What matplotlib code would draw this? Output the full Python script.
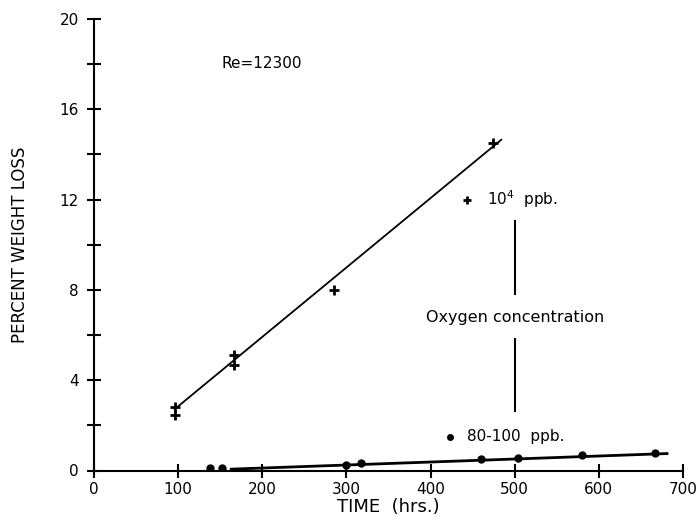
import matplotlib
matplotlib.use("Agg")
import matplotlib.pyplot as plt
import numpy as np

# Data: 10^4 ppb oxygen
high_t = [96.5, 96.5, 166.5, 166.5, 285, 474]
high_w = [2.81, 2.48, 5.11, 4.67, 8.0, 14.5]
high_fit_t = [96, 484]
high_fit_w = [2.72, 14.65]

# Data: 80-100 ppb oxygen
low_t = [138, 152, 300, 317, 460, 504, 580, 667]
low_w = [0.10, 0.12, 0.26, 0.33, 0.49, 0.55, 0.67, 0.77]
low_fit_t = [163, 681]
low_fit_w = [0.06, 0.75]

x_ticks = [0, 100, 200, 300, 400, 500, 600, 700]
y_major = [0, 4, 8, 12, 16, 20]
y_minor = [2, 6, 10, 14, 18]

plt.rcParams['font.family'] = ['DejaVu Sans']
fig = plt.figure(figsize=(6.99, 5.25), dpi=100)
ax = fig.add_axes([94/699, 1-470.5/525, (683-94)/699, (470.5-19)/525])

ax.plot(high_fit_t, high_fit_w, color='black', lw=1.3)
ax.plot(low_fit_t, low_fit_w, color='black', lw=2.0)
ax.plot(high_t, high_w, linestyle='none', marker='+', ms=7, mew=2, color='black')
ax.plot(low_t, low_w, linestyle='none', marker='o', ms=5, color='black')

ax.set_xlim(0, 700)
ax.set_ylim(0, 20)
ax.spines['top'].set_visible(False)
ax.spines['right'].set_visible(False)
ax.spines['left'].set_linewidth(1.5)
ax.spines['bottom'].set_linewidth(1.5)
ax.set_xticks(x_ticks)
ax.set_xticklabels([str(v) for v in x_ticks])
ax.set_yticks(y_major)
ax.set_yticklabels([str(v) for v in y_major])
ax.set_yticks(y_minor, minor=True)
ax.tick_params(axis='both', which='both', direction='inout', length=10, width=1.5,
               labelsize=11, colors='black')
ax.tick_params(axis='x', pad=3)
ax.tick_params(axis='y', pad=6)

ax.set_xlabel('TIME  (hrs.)', fontsize=13, labelpad=1)
ax.set_ylabel('PERCENT WEIGHT LOSS', fontsize=12, labelpad=22)

ax.text(152, 18.05, 'Re=12300', fontsize=11, va='center', ha='left')

ax.plot([443.5], [12.0], marker='+', ms=6, mew=2, color='black', linestyle='none')
ax.text(467, 12.0, r'10$^{4}$  ppb.', fontsize=11, va='center', ha='left')
ax.plot([500, 500], [11.06, 7.82], color='black', lw=1.5)
ax.text(500, 6.78, 'Oxygen concentration', fontsize=11.5, va='center', ha='center')
ax.plot([500, 500], [5.83, 2.65], color='black', lw=1.5)
ax.plot([423], [1.5], marker='o', ms=4, color='black', linestyle='none')
ax.text(443, 1.5, '80-100  ppb.', fontsize=11, va='center', ha='left')

fig.savefig('out.png', dpi=100)
